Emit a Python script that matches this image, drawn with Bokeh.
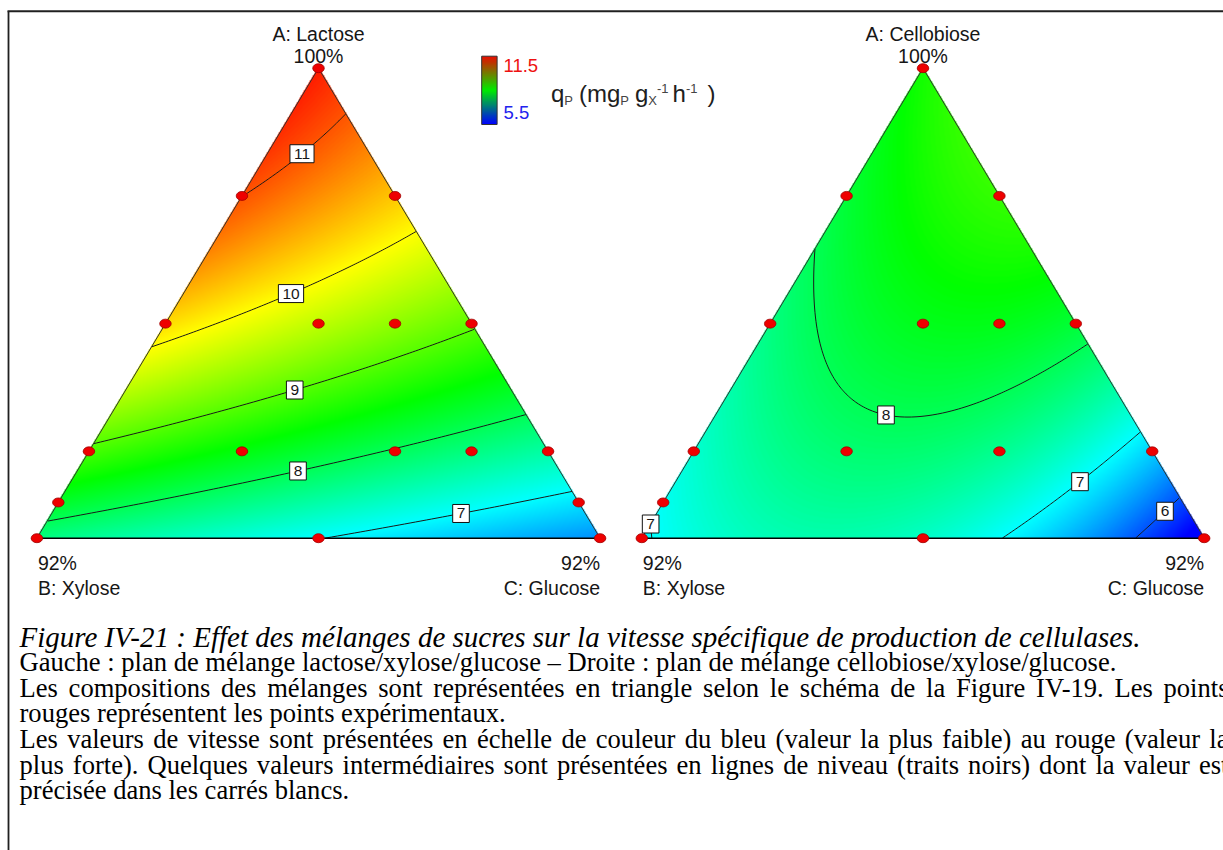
import glob, os
import numpy as np
from bokeh.plotting import figure
from bokeh.models import Range1d, LinearColorMapper
from bokeh.core.properties import value
from bokeh.embed import file_html
from bokeh.resources import INLINE
from contourpy import contour_generator

# ---------------- data ----------------
# Left design : A = lactose, B = xylose, C = glucose  (% of the sugar mixture)
lac_A = [100, 75, 75, 50, 50, 50, 50, 25, 25, 25, 25, 25, 15, 15, 8, 8, 8]
lac_B = [0, 25, 0, 50, 25, 12.5, 0, 75, 50, 25, 12.5, 0, 85, 0, 92, 46, 0]
lac_C = [0, 0, 25, 0, 25, 37.5, 50, 0, 25, 50, 62.5, 75, 0, 85, 0, 46, 92]
lac_q = [11.35, 11.0, 10.3, 10.2, 9.6, 9.3, 9.05, 8.94, 8.4, 8.0, 7.8, 7.57, 8.24, 6.85, 7.76, 7.0, 6.3]

# Right design : A = cellobiose, B = xylose, C = glucose
cel_A = [100, 75, 75, 50, 50, 50, 50, 25, 25, 25, 25, 15, 8, 8, 8]
cel_B = [0, 25, 0, 50, 25, 12.5, 0, 75, 50, 25, 0, 85, 92, 46, 0]
cel_C = [0, 0, 25, 0, 25, 37.5, 50, 0, 25, 50, 75, 0, 0, 46, 92]
cel_q = [8.6, 8.2, 8.75, 7.6, 8.5, 8.5, 8.15, 7.5, 7.55, 7.6, 6.65, 7.05, 6.9, 7.45, 5.3]

A_MIN = 8.0          # lower bound of component A (the B and C corners are 92 %)
q_low, q_high = 5.5, 11.5
left_levels = [7, 8, 9, 10, 11]
right_levels = [6, 7, 8]
left_titles = ["A: Lactose", "B: Xylose", "C: Glucose"]
right_titles = ["A: Cellobiose", "B: Xylose", "C: Glucose"]
corner_labels = ["100%", "92%", "92%"]
legend_ticks = ["11.5", "5.5"]

caption = [
    ("Figure IV-21 : Effet des mélanges de sucres sur la vitesse spécifique de production de cellulases.", "italic", False),
    ("Gauche : plan de mélange lactose/xylose/glucose – Droite : plan de mélange cellobiose/xylose/glucose.", "normal", False),
    ("Les compositions des mélanges sont représentées en triangle selon le schéma de la Figure IV-19. Les points", "normal", True),
    ("rouges représentent les points expérimentaux.", "normal", False),
    ("Les valeurs de vitesse sont présentées en échelle de couleur du bleu (valeur la plus faible) au rouge (valeur la", "normal", True),
    ("plus forte). Quelques valeurs intermédiaires sont présentées en lignes de niveau (traits noirs) dont la valeur est", "normal", True),
    ("précisée dans les carrés blancs.", "normal", False),
]

# ---------------- layout helpers ----------------
W, H = 1223, 850
def X(px):
    return float(px)
def Y(py):
    return H - float(py)

try:
    from PIL import ImageFont
except Exception:
    ImageFont = None

def find_font(fname):
    for d in ("/usr/share/fonts", "/usr/local/share/fonts", os.path.expanduser("~/.fonts")):
        hits = glob.glob(os.path.join(d, "**", fname), recursive=True)
        if hits:
            return hits[0]
    return None

_fonts = {}
def twidth(s, fname, size, approx=0.48):
    if ImageFont is not None:
        if fname not in _fonts:
            path = find_font(fname)
            try:
                _fonts[fname] = ImageFont.truetype(path, 100) if path else None
            except Exception:
                _fonts[fname] = None
        f = _fonts[fname]
        if f is not None:
            return f.getlength(s) * size / 100.0
    return approx * size * len(s)

def hexcol(r, g, b):
    return "#%02x%02x%02x" % (int(round(r)), int(round(g)), int(round(b)))

def make_palette(stops, n=256):
    pos = np.array([s[0] for s in stops], float)
    cols = np.array([s[1] for s in stops], float)
    t = np.linspace(pos[0], pos[-1], n)
    return [hexcol(np.interp(v, pos, cols[:, 0]), np.interp(v, pos, cols[:, 1]), np.interp(v, pos, cols[:, 2])) for v in t]

field_palette = make_palette([(0, (0, 0, 255)), (1, (0, 255, 255)), (2, (0, 255, 0)), (3, (255, 255, 0)), (4, (255, 0, 0))])
legend_palette = make_palette([(0, (0, 0, 255)), (1, (0, 235, 0)), (2, (235, 10, 0))])
field_mapper = LinearColorMapper(palette=field_palette, low=q_low, high=q_high, nan_color=(0, 0, 0, 0.0))
legend_mapper = LinearColorMapper(palette=legend_palette, low=q_low, high=q_high)

SANS = value("Liberation Sans")
SERIF = value("Liberation Serif")
INK = "#161616"

p = figure(width=W, height=H, x_range=Range1d(0, W), y_range=Range1d(0, H),
           output_backend="svg", toolbar_location=None, min_border=0,
           x_axis_location=None, y_axis_location=None)
p.grid.visible = False
p.outline_line_color = None
p.background_fill_color = "white"
p.border_fill_color = "white"

# frame of the document box
p.line([X(7), X(1223)], [Y(10.7), Y(10.7)], line_color="#202020", line_width=2)
p.line([X(8), X(8)], [Y(10.7), Y(850)], line_color="#202020", line_width=1.8)

# ---------------- ternary machinery ----------------
def bary(tri, x, y):
    T, L, R = tri
    m = np.array([[T[0] - L[0], R[0] - L[0]], [T[1] - L[1], R[1] - L[1]]])
    inv = np.linalg.inv(m)
    dx = x - L[0]
    dy = y - L[1]
    a = inv[0, 0] * dx + inv[0, 1] * dy
    c = inv[1, 0] * dx + inv[1, 1] * dy
    return a, 1.0 - a - c, c

def to_xy(tri, a, b, c):
    T, L, R = tri
    return a * T[0] + b * L[0] + c * R[0], a * T[1] + b * L[1] + c * R[1]

def pseudo(A, B, C):
    A = np.asarray(A, float); B = np.asarray(B, float); C = np.asarray(C, float)
    s = 100.0 - A_MIN
    return (A - A_MIN) / s, B / s, C / s

def terms(a, b, c):
    return np.column_stack([a, b, c, a * b, a * c, b * c, a * b * c])

def draw_triangle(tri, A, B, C, q, levels, labels, titles):
    a_p, b_p, c_p = pseudo(A, B, C)
    coef, *_ = np.linalg.lstsq(terms(a_p, b_p, c_p), np.asarray(q, float), rcond=None)

    T, L, R = tri
    xs_all = [T[0], L[0], R[0]]
    ys_all = [T[1], L[1], R[1]]
    x0 = np.floor(min(xs_all)) - 2; x1 = np.ceil(max(xs_all)) + 2
    y0 = np.floor(min(ys_all)) - 2; y1 = np.ceil(max(ys_all)) + 2
    nx = int(x1 - x0); ny = int(y1 - y0)
    gx = x0 + 0.5 + np.arange(nx)
    gy = y0 + 0.5 + np.arange(ny)
    XX, YY = np.meshgrid(gx, gy)
    a, b, c = bary(tri, XX, YY)
    z = (terms(a.ravel(), b.ravel(), c.ravel()) @ coef).reshape(a.shape)
    tol = -0.0015
    inside = (a >= tol) & (b >= tol) & (c >= tol)
    zimg = np.where(inside, z, np.nan).astype(np.float32)
    p.image(image=[zimg], x=x0, y=y0, dw=nx, dh=ny, color_mapper=field_mapper)

    # contour lines, clipped to the triangle
    cg = contour_generator(x=gx, y=gy, z=z)
    seg_x, seg_y, by_level = [], [], {}
    for lev in levels:
        pts_level = []
        for line in cg.lines(lev):
            la, lb, lc = bary(tri, line[:, 0], line[:, 1])
            ok = (la >= 0) & (lb >= 0) & (lc >= 0)
            start = None
            for i in range(len(ok) + 1):
                if i < len(ok) and ok[i]:
                    if start is None:
                        start = i
                else:
                    if start is not None and i - start >= 2:
                        seg_x.append(line[start:i, 0]); seg_y.append(line[start:i, 1])
                        pts_level.append(line[start:i])
                    start = None
        by_level[lev] = np.vstack(pts_level) if pts_level else None
    p.multi_line(xs=seg_x, ys=seg_y, line_color="#1a1a1a", line_width=1)

    # triangle edges
    p.multi_line(xs=[[L[0], T[0], R[0]]], ys=[[L[1], T[1], R[1]]], line_color="#303030", line_width=1)
    p.line([L[0], R[0]], [L[1], R[1]], line_color="black", line_width=1.4)

    # contour labels (snapped onto the computed line)
    lx, ly, lt, lw = [], [], [], []
    for lev, px, py in labels:
        tx, ty = X(px), Y(py)
        pts = by_level.get(lev)
        if pts is not None:
            d = (pts[:, 0] - tx) ** 2 + (pts[:, 1] - ty) ** 2
            k = int(np.argmin(d))
            if d[k] < 45 ** 2:
                tx, ty = pts[k]
        lx.append(tx); ly.append(ty); lt.append(str(lev))
        lw.append(twidth(str(lev), "LiberationSans-Regular.ttf", 15.5, 0.56) + 8)
    p.rect(x=lx, y=ly, width=lw, height=18, fill_color="white", line_color="#111111", line_width=1)
    p.text(x=lx, y=ly, text=lt, text_font=SANS, text_font_size="15.5px",
           text_align="center", text_baseline="middle", text_color=INK)

    # experimental points
    dx, dy = to_xy(tri, a_p, b_p, c_p)
    p.ellipse(x=dx, y=dy, width=11.5, height=9, fill_color="#ee0000", line_color="#a00000", line_width=0.8)

    # vertex titles
    kw = dict(text_font=SANS, text_font_size="19.5px", text_baseline="middle", text_color=INK)
    p.text(x=[T[0], T[0]], y=[Y(33), Y(55.3)], text=[titles[0], corner_labels[0]], text_align="center", **kw)
    p.text(x=[L[0] + 1, L[0] + 1], y=[Y(562.3), Y(587)], text=[corner_labels[1], titles[1]], text_align="left", **kw)
    p.text(x=[R[0], R[0]], y=[Y(562.3), Y(587)], text=[corner_labels[2], titles[2]], text_align="right", **kw)

left_tri = [(X(318.0), Y(67.7)), (X(36.4), Y(537.7)), (X(599.6), Y(537.7))]
right_tri = [(X(922.5), Y(67.7)), (X(641.3), Y(537.7)), (X(1203.7), Y(537.7))]

left_labels = [(11, 297, 148), (10, 290.6, 292.3), (9, 293, 386.7), (8, 296.6, 465.7), (7, 458.7, 505.7)]
right_labels = [(8, 887, 405), (7, 1075, 475), (7, 654.6, 517), (6, 1159, 505)]

draw_triangle(left_tri, lac_A, lac_B, lac_C, lac_q, left_levels, left_labels, left_titles)
draw_triangle(right_tri, cel_A, cel_B, cel_C, cel_q, right_levels, right_labels, right_titles)

# ---------------- colour legend ----------------
nbar = 200
bar = np.linspace(q_low, q_high, nbar).reshape(nbar, 1)
cb_x0, cb_x1, cb_top, cb_bot = X(481.2), X(496.6), Y(55.7), Y(124.0)
p.image(image=[bar], x=cb_x0, y=cb_bot, dw=cb_x1 - cb_x0, dh=cb_top - cb_bot, color_mapper=legend_mapper)
p.quad(left=[cb_x0], right=[cb_x1], bottom=[cb_bot], top=[cb_top], fill_color=None, line_color="#333333", line_width=1)
p.text(x=[X(503), X(503)], y=[Y(65), Y(111.5)], text=legend_ticks, text_color=["#ee1111", "#2222ee"],
       text_font=SANS, text_font_size="18.5px", text_align="left", text_baseline="middle")

# quantity label q_P (mg_P g_X^-1 h^-1): (text, size, dy, gap after)
segs = [("q", 24, 0, 0), ("P", 13, 7, 6), ("(", 24, 0, 0), ("mg", 24, 0, 0), ("P", 13, 7, 6),
        ("g", 24, 0, 0), ("X", 13, 7, 0), ("-1", 13, -5, 4), ("h", 24, 0, 0), ("-1", 13, -5, 10), (")", 24, 0, 0)]
cx = X(550.5)
yc = 93.0
for txt, size, off, gap in segs:
    p.text(x=[cx], y=[Y(yc + off)], text=[txt], text_font=SANS, text_font_size="%dpx" % size,
           text_align="left", text_baseline="middle", text_color="#202020" if size > 20 else "#444444")
    cx += twidth(txt, "LiberationSans-Regular.ttf", size, 0.55) + gap

# ---------------- caption ----------------
REG = "LiberationSerif-Regular.ttf"
ITA = "LiberationSerif-Italic.ttf"
fs = min(27.0, max(19.0, 1097.0 / twidth(caption[1][0], REG, 1.0, 0.42)))
fs_it = min(29.0, max(19.0, 1.06 * 1134.0 / twidth(caption[0][0], ITA, 1.0, 0.42)))
cap_left, cap_right = X(19.0), X(1228.0)
for i, (line, style, justify) in enumerate(caption):
    yc_line = Y(636.0 + 25.6 * i)
    fname = ITA if style == "italic" else REG
    size = fs_it if style == "italic" else fs
    if justify:
        words = line.split(" ")
        ws = [twidth(w, fname, size, 0.42) for w in words]
        gap = (cap_right - cap_left - sum(ws)) / (len(words) - 1)
        xs, cur = [], cap_left
        for w in ws:
            xs.append(cur); cur += w + gap
        p.text(x=xs, y=[yc_line] * len(words), text=words, text_font=SERIF, text_font_size="%.2fpx" % size,
               text_font_style=style, text_align="left", text_baseline="middle", text_color="black")
    else:
        p.text(x=[cap_left], y=[yc_line], text=[line], text_font=SERIF, text_font_size="%.2fpx" % size,
               text_font_style=style, text_align="left", text_baseline="middle", text_color="black")

open("out.html", "w").write(file_html(p, INLINE))
